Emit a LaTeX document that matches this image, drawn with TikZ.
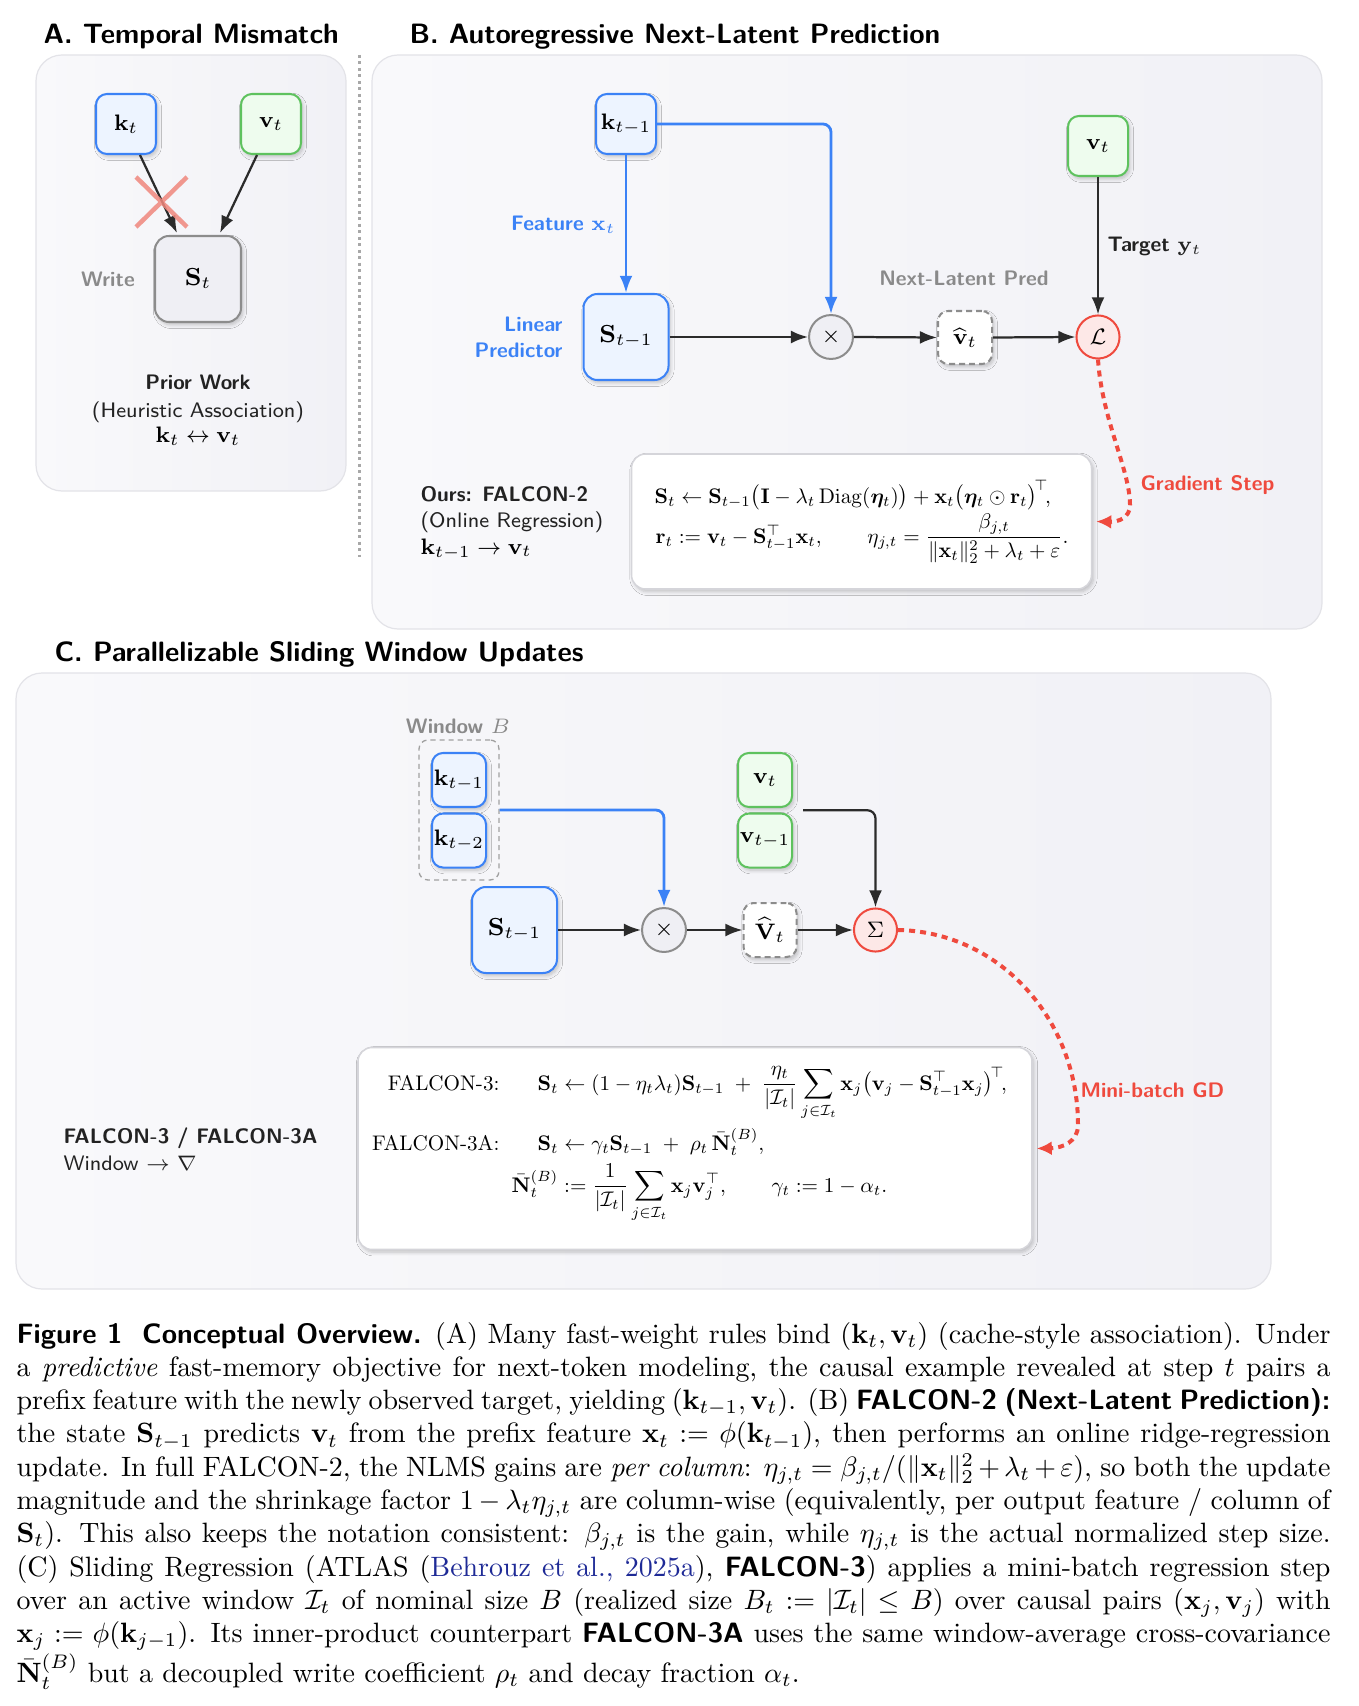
\RequirePackage{fix-cm}
\documentclass[tikz,border=0pt]{standalone}
\usepackage{amsmath,amssymb,bm,graphicx}
\usetikzlibrary{arrows.meta,shadows.blur,calc}
\definecolor{kblue}{HTML}{3B82F6}
\definecolor{kbluefill}{HTML}{EDF4FF}
\definecolor{vgreen}{HTML}{5EC25E}
\definecolor{vgreenfill}{HTML}{EEFCEE}
\definecolor{lred}{HTML}{EF4A3E}
\definecolor{lredfill}{HTML}{FDE8E7}
\definecolor{opgray}{HTML}{8C8C8C}
\definecolor{opfill}{HTML}{EFEFF4}
\definecolor{darkline}{HTML}{2B2B2B}
\definecolor{darktext}{HTML}{222222}
\definecolor{labgray}{HTML}{8A8A8A}
\definecolor{panelL}{HTML}{F9F9FB}
\definecolor{panelR}{HTML}{F1F1F6}
\definecolor{panelborder}{HTML}{E3E3E8}
\definecolor{crossred}{HTML}{F0877D}
\definecolor{citeblue}{HTML}{1E2A96}
\definecolor{sepgray}{HTML}{A8A8A8}
\definecolor{boxborder}{HTML}{D5D5DA}
\definecolor{wingray}{HTML}{A0A0A0}
\newdimen\pxu \pxu=0.3575pt
\newcommand{\labfont}{\fontsize{7.5}{9}\selectfont\sffamily\bfseries}
\newcommand{\labreg}{\fontsize{7.5}{9}\selectfont\sffamily}
\newcommand{\nmath}{\fontsize{8}{9.6}\selectfont}
\newcommand{\smath}{\fontsize{8.8}{10}\selectfont}
\newcommand{\ttlfont}{\fontsize{10}{12}\selectfont\sffamily\bfseries}
\newcommand{\eqs}[1]{\scalebox{0.755}{\fontsize{10}{12}\selectfont #1}}
\begin{document}
\begin{tikzpicture}[x=\pxu,y=-\pxu,
  shadowed/.style={blur shadow={shadow xshift=0.7pt,shadow yshift=-1pt,shadow blur radius=1.3pt,shadow blur steps=6,shadow opacity=22}},
  panel/.style={draw=panelborder,line width=0.43pt,left color=panelL,right color=panelR,rounded corners=9.3pt},
  kstyle/.style={shadowed,draw=kblue,fill=kbluefill,line width=0.72pt,rounded corners=3.9pt,inner sep=0pt,font=\nmath},
  vstyle/.style={shadowed,draw=vgreen,fill=vgreenfill,line width=0.72pt,rounded corners=3.9pt,inner sep=0pt,font=\nmath},
  gstyle/.style={shadowed,draw=opgray,fill=opfill,line width=0.72pt,rounded corners=5pt,inner sep=0pt,font=\smath},
  predstyle/.style={shadowed,draw=opgray,fill=white,dash pattern=on 2.1pt off 1.45pt,line width=0.72pt,rounded corners=3.6pt,inner sep=0pt,font=\nmath},
  opstyle/.style={circle,draw=opgray,fill=opfill,line width=0.72pt,minimum size=15.7pt,inner sep=0pt,font=\nmath},
  lossstyle/.style={circle,draw=lred,fill=lredfill,line width=0.72pt,minimum size=15.4pt,inner sep=0pt,font=\nmath},
  eqbox/.style={shadowed,draw=boxborder,fill=white,line width=0.55pt,rounded corners=5pt,inner sep=0pt},
  arr/.style={draw=darkline,line width=0.8pt,-{Latex[length=6.1pt,width=4.6pt]}},
  barr/.style={draw=kblue,line width=1pt,-{Latex[length=6.1pt,width=4.6pt]},rounded corners=2.9pt},
  redarr/.style={draw=lred,line width=1.43pt,dash pattern=on 2.15pt off 1.8pt,-{Latex[length=5.4pt,width=5pt]}},
  lab/.style={font=\labfont,inner sep=0pt},
  reg/.style={font=\labreg,inner sep=0pt},
  eq/.style={inner sep=0pt},
]
\useasboundingbox (0,0) rectangle (1358,1706);
\fill[white] (0,0) rectangle (1358,1706);

% ---------------- Panel A ----------------
\node[lab,font=\ttlfont,anchor=base west] (tA) at (43,44) {A. Temporal Mismatch};
\path[panel] (36,55) rectangle (346,491);
\draw[sepgray,line width=1.07pt,dash pattern=on 1.07pt off 1.25pt] (359,55) -- (359,557);

\node[kstyle,minimum width=60\pxu,minimum height=60\pxu] (kA) at (126,124) {$\mathbf{k}_t$};
\node[vstyle,minimum width=60\pxu,minimum height=60\pxu] (vA) at (271,124) {$\mathbf{v}_t$};
\node[gstyle,minimum width=86\pxu,minimum height=86\pxu] (SA) at (198,279) {$\mathbf{S}_t$};
\draw[arr] ($(kA.south)+(14,0)$) -- ($(SA.north)+(-21,-2)$);
\draw[arr] ($(vA.south)+(-14,0)$) -- ($(SA.north)+(22,-2)$);
\draw[crossred,line width=1.6pt,opacity=0.85] (136,177) -- (187,227) (136,227) -- (187,177);
\node[lab,text=labgray,anchor=base] (wA) at (108,287) {Write};
\node[lab,text=darktext,anchor=base] (pw1) at (198,390) {Prior Work};
\node[reg,text=darktext,anchor=base] (pw2) at (198,417) {(Heuristic Association)};
\node[font=\nmath,inner sep=0pt,anchor=base] (pw3) at (198,443) {$\mathbf{k}_t\leftrightarrow\mathbf{v}_t$};

% ---------------- Panel B ----------------
\node[lab,font=\ttlfont,anchor=base west] (tB) at (409,44) {B. Autoregressive Next-Latent Prediction};
\path[panel] (372,55) rectangle (1322,629);

\node[kstyle,minimum width=60\pxu,minimum height=60\pxu] (kB) at (626,124) {$\mathbf{k}_{t-1}$};
\node[kstyle,font=\smath,minimum width=85\pxu,minimum height=86\pxu,rounded corners=5pt] (SB) at (626,337) {$\mathbf{S}_{t-1}$};
\node[opstyle] (xB) at (831,337) {$\times$};
\node[predstyle,minimum width=54\pxu,minimum height=53\pxu] (vhB) at (965,337.5) {$\widehat{\mathbf{v}}_t$};
\node[lossstyle] (LB) at (1098,337) {$\mathcal{L}$};
\node[vstyle,minimum width=60\pxu,minimum height=60\pxu] (vB) at (1098,146) {$\mathbf{v}_t$};

\draw[barr] (kB.south) -- (SB.north);
\draw[barr] (kB.east) -| (xB.north);
\draw[arr] (SB.east) -- (xB.west);
\draw[arr] (xB.east) -- (vhB.west);
\draw[arr] (vhB.east) -- (LB.west);
\draw[arr] (vB.south) -- (LB.north);

\node[lab,text=kblue,anchor=base east] (featB) at (616,231) {Feature $\mathbf{x}_t$};
\node[lab,text=kblue,anchor=base east] (lin1) at (563,332) {Linear};
\node[lab,text=kblue,anchor=base east] (lin2) at (563,358) {Predictor};
\node[lab,text=labgray,anchor=base] (nlp) at (964,286) {Next-Latent Pred};
\node[lab,text=darktext,anchor=base west] (tgt) at (1107,252) {Target $\mathbf{y}_t$};
\node[lab,text=lred,anchor=base west] (gs) at (1140,490) {Gradient Step};

\node[eqbox,minimum width=460\pxu,minimum height=135\pxu] (fB) at (861.5,521.5) {};
\node[eq,anchor=base west] (eqB1) at (654,503)
  {\eqs{$\mathbf{S}_t \leftarrow \mathbf{S}_{t-1}\bigl(\mathbf{I}-\lambda_t\,\mathrm{Diag}(\bm{\eta}_t)\bigr)+\mathbf{x}_t\bigl(\bm{\eta}_t\odot\mathbf{r}_t\bigr)^{\!\top}\!,$}};
\node[eq,anchor=base west] (eqB2) at (655,543)
  {\eqs{$\mathbf{r}_t := \mathbf{v}_t-\mathbf{S}_{t-1}^{\top}\mathbf{x}_t, \qquad \eta_{j,t}=\dfrac{\beta_{j,t}}{\|\mathbf{x}_t\|_2^2+\lambda_t+\varepsilon}.$}};

\node[lab,text=darktext,anchor=base west] (ours1) at (420,501) {Ours: FALCON-2};
\node[reg,text=darktext,anchor=base west] (ours2) at (420,527) {(Online Regression)};
\node[font=\nmath,inner sep=0pt,anchor=base west] (ours3) at (420,554) {$\mathbf{k}_{t-1}\to\mathbf{v}_t$};

\draw[redarr] (LB.south) .. controls (1102,420) and (1130,470) .. (1130,505)
  .. controls (1130,518) and (1118,522) .. ([xshift=1.4pt]fB.east);

% ---------------- Panel C ----------------
\node[lab,font=\ttlfont,anchor=base west] (tC) at (54,661) {C. Parallelizable Sliding Window Updates};
\path[panel] (16,673) rectangle (1271,1289);

\node[lab,text=labgray,anchor=base] (winlab) at (458,733) {Window $B$};
\node[draw=wingray,dash pattern=on 1.8pt off 1.45pt,line width=0.47pt,rounded corners=3.2pt,minimum width=80\pxu,minimum height=140\pxu,inner sep=0pt] (winC) at (459,810) {};
\node[kstyle,minimum width=54\pxu,minimum height=54\pxu] (kC1) at (459,780) {$\mathbf{k}_{t-1}$};
\node[kstyle,minimum width=54\pxu,minimum height=54\pxu] (kC2) at (459,840.5) {$\mathbf{k}_{t-2}$};
\node[kstyle,font=\smath,minimum width=85\pxu,minimum height=86\pxu,rounded corners=5pt] (SC) at (514.5,930) {$\mathbf{S}_{t-1}$};
\node[opstyle] (xC) at (664,930) {$\times$};
\node[predstyle,minimum width=53\pxu,minimum height=54\pxu] (VC) at (770,930) {$\widehat{\mathbf{V}}_t$};
\node[lossstyle] (sigC) at (875.5,930) {$\Sigma$};
\node[vstyle,minimum width=54\pxu,minimum height=54\pxu] (vC1) at (765,780) {$\mathbf{v}_t$};
\node[vstyle,minimum width=54\pxu,minimum height=54\pxu] (vC2) at (765,840.5) {$\mathbf{v}_{t-1}$};

\draw[barr] (winC.east) -| (xC.north);
\coordinate (vjoin) at ($(vC1.south east)!0.5!(vC2.north east)+(10,0)$);
\draw[arr,rounded corners=2.9pt] (vjoin) -| (sigC.north);
\draw[arr] (SC.east) -- (xC.west);
\draw[arr] (xC.east) -- (VC.west);
\draw[arr] (VC.east) -- (sigC.west);

\node[eqbox,minimum width=674\pxu,minimum height=202\pxu] (fC) at (695,1148.5) {};
\node[eq,anchor=base east] (f3lab) at (500,1090) {\eqs{FALCON-3:}};
\node[eq,anchor=base west] (f3eq) at (537,1090)
  {\eqs{$\displaystyle \mathbf{S}_t \leftarrow (1-\eta_t\lambda_t)\mathbf{S}_{t-1} \;+\; \frac{\eta_t}{|\mathcal{I}_t|}\sum_{j\in\mathcal{I}_t}\mathbf{x}_j\bigl(\mathbf{v}_j-\mathbf{S}_{t-1}^{\top}\mathbf{x}_j\bigr)^{\!\top}\!,$}};
\node[eq,anchor=base east] (f3alab) at (500,1150) {\eqs{FALCON-3A:}};
\node[eq,anchor=base west] (f3aeq) at (537,1150)
  {\eqs{$\mathbf{S}_t \leftarrow \gamma_t\mathbf{S}_{t-1} \;+\; \rho_t\,\bar{\mathbf{N}}_t^{(B)},$}};
\node[eq,anchor=base west] (neq) at (511,1192)
  {\eqs{$\displaystyle \bar{\mathbf{N}}_t^{(B)} := \frac{1}{|\mathcal{I}_t|}\sum_{j\in\mathcal{I}_t}\mathbf{x}_j\mathbf{v}_j^{\top},\qquad \gamma_t := 1-\alpha_t.$}};

\draw[redarr] (sigC.east) .. controls (1000,932) and (1078,1020) .. (1078,1125)
  .. controls (1078,1142) and (1062,1148) .. ([xshift=1.4pt]fC.east);
\node[lab,text=lred,anchor=base west] (mbgd) at (1080,1097) {Mini-batch GD};

\node[lab,text=darktext,anchor=base west] (fl1) at (63,1143) {FALCON-3 / FALCON-3A};
\node[reg,text=darktext,anchor=base west] (fl2) at (63,1170) {Window $\to\nabla$};

% ---------------- Caption ----------------
\node[anchor=base west,inner sep=0pt,text width=1314\pxu,align=justify,font=\fontsize{10}{11.9}\selectfont] (cap) at (16,1343)
{{\sffamily\bfseries Figure 1\hskip 0.7em Conceptual Overview.} (A) Many fast-weight rules bind $(\mathbf{k}_t,\mathbf{v}_t)$ (cache-style association). Under\linebreak
a \emph{predictive} fast-memory objective for next-token modeling, the causal example revealed at step $t$ pairs a\linebreak
prefix feature with the newly observed target, yielding $(\mathbf{k}_{t-1},\mathbf{v}_t)$. (B) {\sffamily\bfseries FALCON-2 (Next-Latent Prediction):}\linebreak
the state $\mathbf{S}_{t-1}$ predicts $\mathbf{v}_t$ from the prefix feature $\mathbf{x}_t:=\phi(\mathbf{k}_{t-1})$, then performs an online ridge-regression\linebreak
update. In full FALCON-2, the NLMS gains are \emph{per column}: $\eta_{j,t}=\beta_{j,t}/(\|\mathbf{x}_t\|_2^2+\lambda_t+\varepsilon)$, so both the update\linebreak
magnitude and the shrinkage factor $1-\lambda_t\eta_{j,t}$ are column-wise (equivalently, per output feature / column of\linebreak
$\mathbf{S}_t$). This also keeps the notation consistent: $\beta_{j,t}$ is the gain, while $\eta_{j,t}$ is the actual normalized step size.\linebreak
(C) Sliding Regression (ATLAS ({\color{citeblue}Behrouz et al., 2025a}), {\sffamily\bfseries FALCON-3}) applies a mini-batch regression step\linebreak
over an active window $\mathcal{I}_t$ of nominal size $B$ (realized size $B_t:=|\mathcal{I}_t|\le B$) over causal pairs $(\mathbf{x}_j,\mathbf{v}_j)$ with\linebreak
$\mathbf{x}_j:=\phi(\mathbf{k}_{j-1})$. Its inner-product counterpart {\sffamily\bfseries FALCON-3A} uses the same window-average cross-covariance\linebreak
$\bar{\mathbf{N}}_t^{(B)}$ but a decoupled write coefficient $\rho_t$ and decay fraction $\alpha_t$.};
\end{tikzpicture}
\end{document}
